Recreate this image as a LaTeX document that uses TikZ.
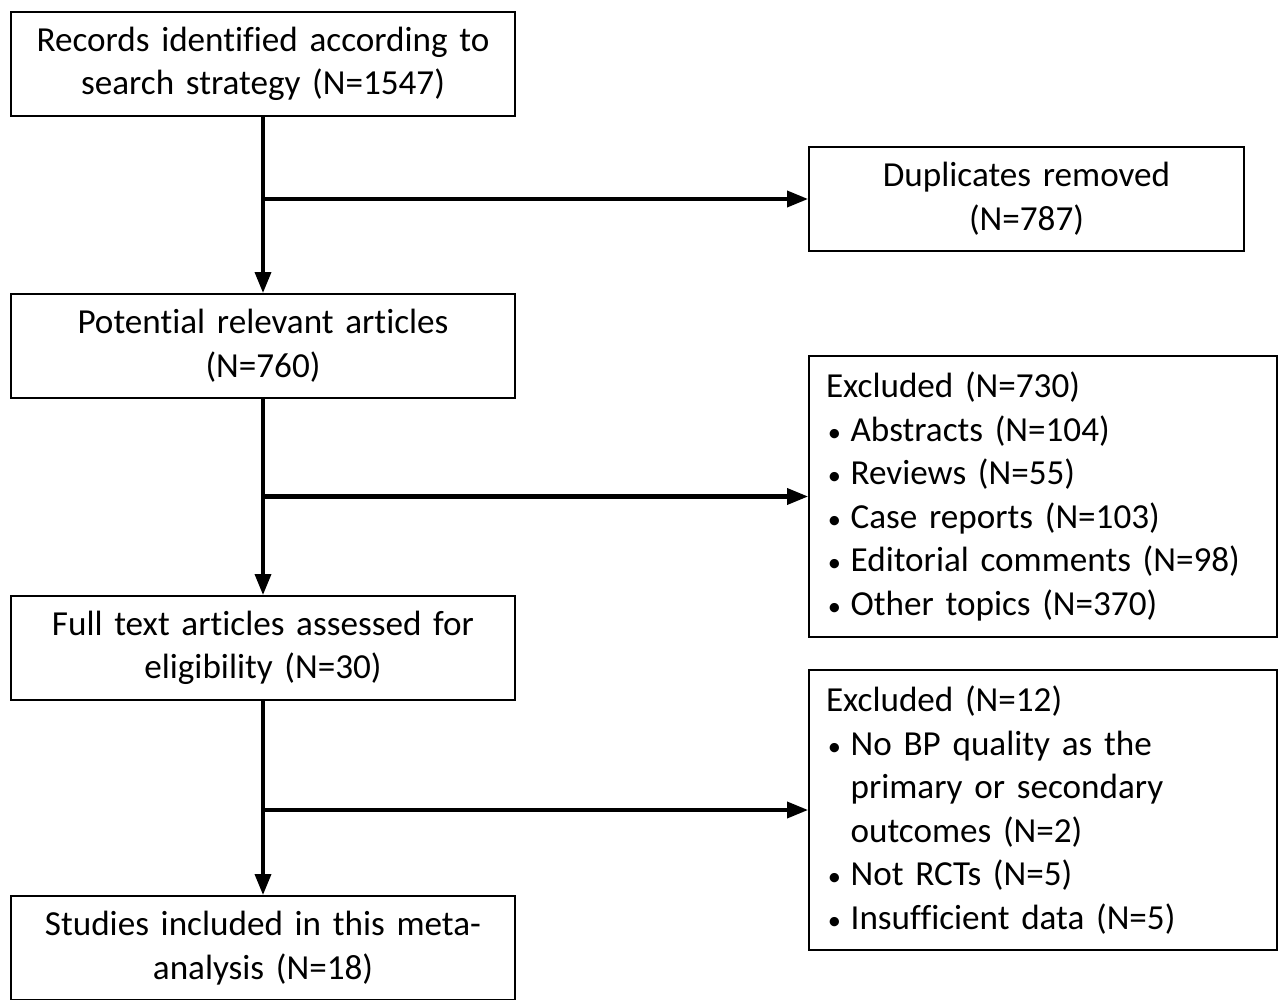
\documentclass[tikz,border=0pt]{standalone}
\usepackage{fontspec}
\setmainfont{Carlito}[Ligatures=NoCommon,WordSpace=0.85]
\usetikzlibrary{arrows.meta}
\tikzstyle{box}=[draw,line width=1pt,inner sep=0pt,align=center,text width=10.08cm,minimum width=10.08cm,minimum height=2.08cm]
\tikzstyle{sidebox}=[draw,line width=1pt,inner xsep=0.34cm,inner ysep=0pt,align=left,text width=8.68cm,minimum height=#1]
\tikzstyle{flow}=[line width=2.3pt,-{Triangle[length=12pt,width=9pt]}]
\newcommand{\itm}{\makebox[14pt][l]{\hspace{1pt}{\fontsize{15}{15}\selectfont •}}}
\newcommand{\cont}{\hspace*{14pt}}

\begin{document}
\begin{tikzpicture}[x=0.02cm,y=-0.02cm,every node/.style={font=\fontsize{20}{24.8}\selectfont}]
    \useasboundingbox (0,0) rectangle (1285,1000);

    % main column
    \node[box] (records) at (263,64) {Records identified according to\\search strategy (N=1547)};
    \node[box] (potential) at (263,346) {Potential relevant articles\\(N=760)};
    \node[box] (fulltext) at (263,648) {Full text articles assessed for\\eligibility (N=30)};
    \node[box] (included) at (263,948) {Studies included in this meta-\\analysis (N=18)};

    % exclusions
    \node[box,text width=8.7cm,minimum width=8.7cm] (dupl) at (1026.5,199) {Duplicates removed\\(N=787)};
    \node[sidebox=5.62cm] (excl1) at (1043,496.5) {Excluded (N=730)\\
        \itm Abstracts (N=104)\\
        \itm Reviews (N=55)\\
        \itm Case reports (N=103)\\
        \itm Editorial comments (N=98)\\
        \itm Other topics (N=370)};
    \node[sidebox=5.6cm] (excl2) at (1043,810) {Excluded (N=12)\\
        \itm No BP quality as the\\
        \cont primary or secondary\\
        \cont outcomes (N=2)\\
        \itm Not RCTs (N=5)\\
        \itm Insufficient data (N=5)};

    \draw[flow] (records) -- (potential);
    \draw[flow] (potential) -- (fulltext);
    \draw[flow] (fulltext) -- (included);
    \draw[flow] (records.south |- dupl.west) -- (dupl.west);
    \draw[flow] (potential.south |- excl1.west) -- (excl1.west);
    \draw[flow] (fulltext.south |- excl2.west) -- (excl2.west);
\end{tikzpicture}
\end{document}
